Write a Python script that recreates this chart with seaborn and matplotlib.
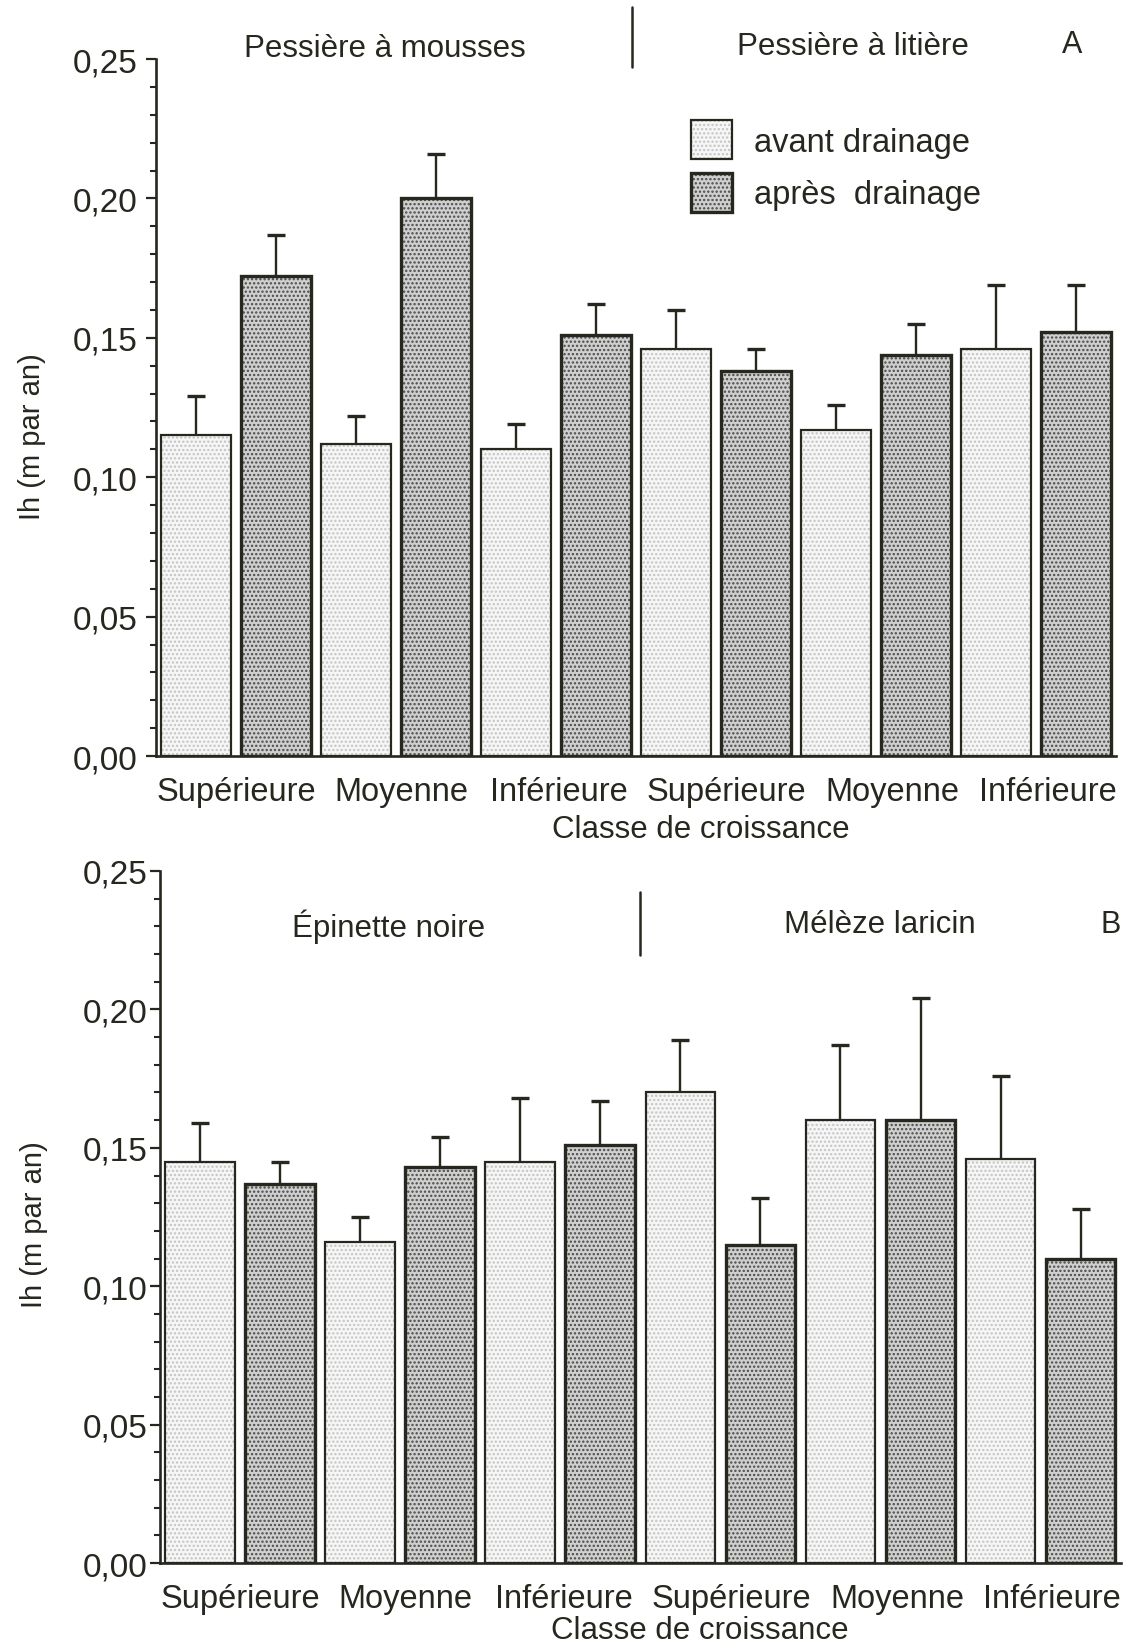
import numpy as np
import pandas as pd
import matplotlib
matplotlib.use("Agg")
import matplotlib.pyplot as plt
from matplotlib.patches import Patch
from matplotlib.lines import Line2D
from matplotlib.ticker import MultipleLocator, FuncFormatter
from matplotlib.transforms import ScaledTranslation
import seaborn as sns

# ---- data -------------------------------------------------------------
classes = ["Supérieure", "Moyenne", "Inférieure", "Supérieure", "Moyenne", "Inférieure"]
periods = ["avant drainage", "après  drainage"]

# A: stand types
stands_a = ["Pessière à mousses", "Pessière à litière"]
a_avant = [0.115, 0.112, 0.110, 0.146, 0.117, 0.146]
a_avant_top = [0.129, 0.122, 0.119, 0.160, 0.126, 0.169]
a_apres = [0.172, 0.200, 0.151, 0.138, 0.144, 0.152]
a_apres_top = [0.187, 0.216, 0.162, 0.146, 0.155, 0.169]

# B: species
species_b = ["Épinette noire", "Mélèze laricin"]
b_avant = [0.145, 0.116, 0.145, 0.170, 0.160, 0.146]
b_avant_top = [0.159, 0.125, 0.168, 0.189, 0.187, 0.176]
b_apres = [0.137, 0.143, 0.151, 0.115, 0.160, 0.110]
b_apres_top = [0.145, 0.154, 0.167, 0.132, 0.204, 0.128]

# ---- style ------------------------------------------------------------
sns.set_theme(style="white")
plt.rcParams["font.family"] = ["Liberation Sans", "DejaVu Sans"]
plt.rcParams["hatch.linewidth"] = 1.1

INK = "#27261f"
FILL = ["#f6f6f6", "#cfcfcf"]
DOTS = ["#c4c4c4", "#4a4a48"]
EDGE_LW = [1.6, 2.4]
HATCH = "...."
# small horizontal nudges (points) of the class labels
LABEL_NUDGE = [0, 3.8, 2.3, 7.6, 12.1, 8.3]

fig = plt.figure(figsize=(11.29, 16.49), dpi=100)
fig.patch.set_facecolor("white")


def comma(v, _):
    return f"{v:.2f}".replace(".", ",")


def draw_panel(ax, groups, avant, avant_top, apres, apres_top, ytick_pad):
    slots = [f"{groups[i // 3]} | {classes[i]}" for i in range(6)]
    df = pd.DataFrame({
        "slot": slots * 2,
        "periode": [periods[0]] * 6 + [periods[1]] * 6,
        "ih": list(avant) + list(apres),
    })
    common = dict(data=df, x="slot", y="ih", hue="periode", order=slots,
                  hue_order=periods, width=1.0, gap=0.13, errorbar=None,
                  legend=False, ax=ax)
    # dotted fill layer
    sns.barplot(palette=FILL, linewidth=0, **common)
    for cont, dc in zip(ax.containers[:2], DOTS):
        for bar in cont:
            bar.set_edgecolor(dc)
            bar.set_hatch(HATCH)
            bar.set_linewidth(0)
    # outline layer
    sns.barplot(palette=[INK, INK], fill=False, linewidth=2, **common)
    for cont, lw in zip(ax.containers[2:4], EDGE_LW):
        for bar in cont:
            bar.set_linewidth(lw)
            bar.set_edgecolor(INK)
            bar.set_zorder(3)

    # upward-only error bars
    for cont, vals, tops in zip(ax.containers[:2], [avant, apres], [avant_top, apres_top]):
        xs = [b.get_x() + b.get_width() / 2 for b in cont]
        vals = np.asarray(vals)
        up = np.asarray(tops) - vals
        _, caps, _ = ax.errorbar(xs, vals, yerr=[np.zeros_like(up), up], fmt="none",
                                 ecolor=INK, elinewidth=1.7, capsize=6.5,
                                 capthick=2.4, zorder=2)
        caps[0].remove()

    ax.set_xlim(-0.5, 5.5)
    ax.set_ylim(0, 0.25)
    ax.set_xticks(range(6))
    ax.set_xticklabels(classes)
    ax.set_xlabel("")
    ax.set_ylabel("")
    ax.yaxis.set_major_locator(MultipleLocator(0.05))
    ax.yaxis.set_minor_locator(MultipleLocator(0.01))
    ax.yaxis.set_major_formatter(FuncFormatter(comma))
    ax.tick_params(axis="x", length=0, pad=14, labelsize=23.5, colors=INK)
    ax.tick_params(axis="y", which="major", direction="out", length=7, width=1.6,
                   pad=ytick_pad, labelsize=24, colors=INK, left=True)
    ax.tick_params(axis="y", which="minor", direction="out", length=4.5, width=1.5,
                   colors=INK, left=True)
    for lab, dx in zip(ax.get_xticklabels(), LABEL_NUDGE):
        lab.set_transform(lab.get_transform() +
                          ScaledTranslation(dx / 72, 0, fig.dpi_scale_trans))
    for side in ["top", "right"]:
        ax.spines[side].set_visible(False)
    for side in ["left", "bottom"]:
        ax.spines[side].set_color(INK)
        ax.spines[side].set_linewidth(1.9)
    ax.set_facecolor("white")


# ---- panel A ----------------------------------------------------------
axA = fig.add_axes([0.1382, 0.5409, 0.8503, 0.4227])
draw_panel(axA, stands_a, a_avant, a_avant_top, a_apres, a_apres_top, ytick_pad=6)
axA.text(0.2385, 1.016, stands_a[0], transform=axA.transAxes, ha="center",
         va="center", fontsize=22.5, color=INK)
axA.text(0.7255, 1.019, stands_a[1], transform=axA.transAxes, ha="center",
         va="center", fontsize=22.5, color=INK)
axA.text(0.954, 1.022, "A", transform=axA.transAxes, ha="center",
         va="center", fontsize=22, color=INK)
axA.add_line(Line2D([0.496, 0.496], [0.9885, 1.0746], transform=axA.transAxes,
                    color=INK, lw=1.8, clip_on=False))
axA.text(-0.129, 0.46, "Ih (m par an)", transform=axA.transAxes, rotation=90,
         ha="center", va="center", fontsize=21, color=INK)
axA.text(0.567, -0.105, "Classe de croissance", transform=axA.transAxes,
         ha="center", va="center", fontsize=22.5, color=INK)

handles = []
for fc, dc, lw in zip(FILL, DOTS, EDGE_LW):
    fill_p = Patch(facecolor=fc, edgecolor=dc, hatch=HATCH, linewidth=0)
    edge_p = Patch(fill=False, edgecolor=INK, linewidth=lw)
    handles.append((fill_p, edge_p))
leg = axA.legend(handles, periods, loc="upper left", bbox_to_anchor=(0.557, 0.912),
                 frameon=False, fontsize=23.5, handlelength=1.25, handleheight=1.45,
                 handletextpad=0.7, labelspacing=0.42, borderpad=0, borderaxespad=0)
for t in leg.get_texts():
    t.set_color(INK)

# ---- panel B ----------------------------------------------------------
axB = fig.add_axes([0.1417, 0.0515, 0.8509, 0.4197])
draw_panel(axB, species_b, b_avant, b_avant_top, b_apres, b_apres_top, ytick_pad=2)
axB.text(0.238, 0.9205, species_b[0], transform=axB.transAxes, ha="center",
         va="center", fontsize=22.5, color=INK)
axB.text(0.749, 0.923, species_b[1], transform=axB.transAxes, ha="center",
         va="center", fontsize=22.5, color=INK)
axB.text(0.99, 0.923, "B", transform=axB.transAxes, ha="center",
         va="center", fontsize=22, color=INK)
axB.add_line(Line2D([0.4995, 0.4995], [0.878, 0.969], transform=axB.transAxes,
                    color=INK, lw=1.8, clip_on=False))
axB.text(-0.131, 0.49, "Ih (m par an)", transform=axB.transAxes, rotation=90,
         ha="center", va="center", fontsize=21, color=INK)
axB.text(0.562, -0.097, "Classe de croissance", transform=axB.transAxes,
         ha="center", va="center", fontsize=22.5, color=INK)

fig.savefig("out.png", dpi=100, facecolor="white")
